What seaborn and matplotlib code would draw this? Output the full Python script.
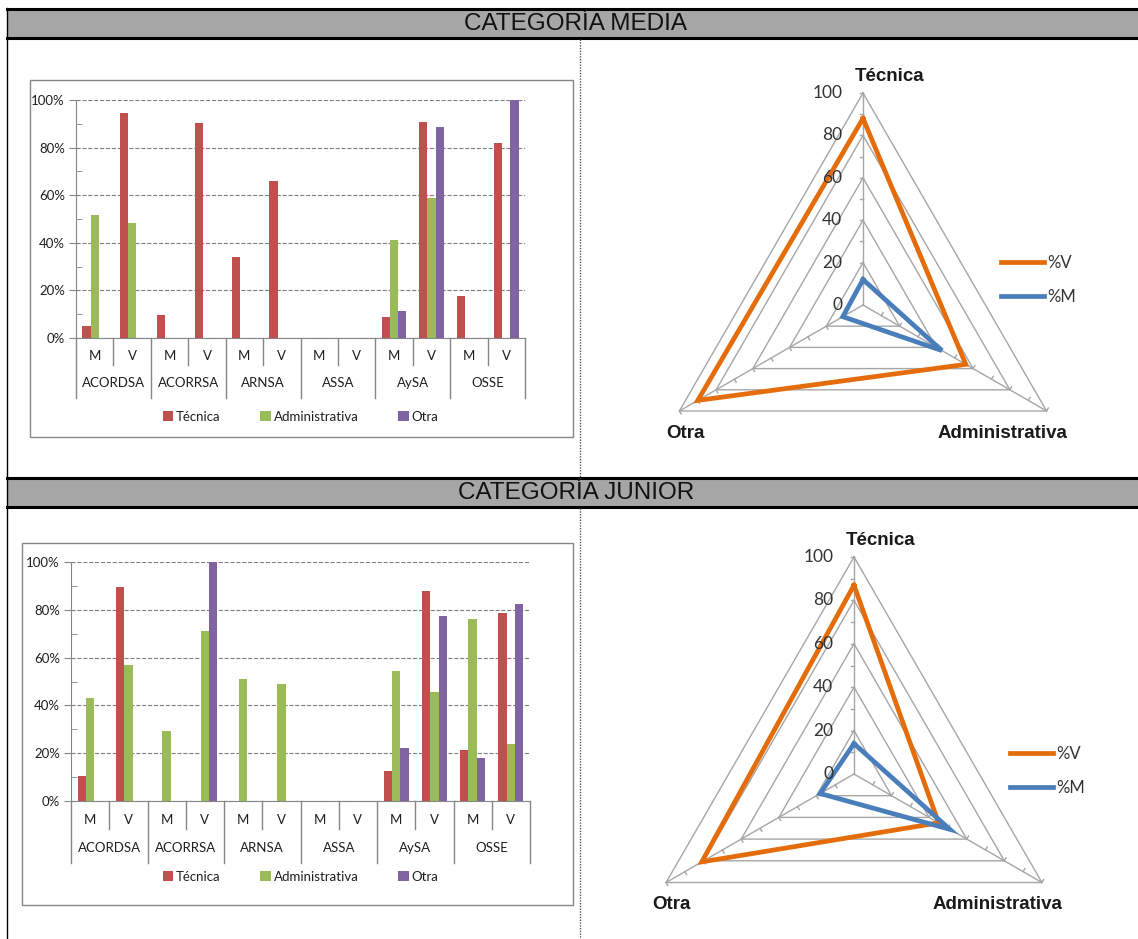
import numpy as np
import pandas as pd
import matplotlib
matplotlib.use('Agg')
import matplotlib.pyplot as plt
import matplotlib.lines as mlines
import matplotlib.patches as mpatches
from matplotlib.ticker import MultipleLocator, FuncFormatter
import seaborn as sns

############################## datos ##########################################
entes = ['ACORDSA', 'ACORRSA', 'ARNSA', 'ASSA', 'AySA', 'OSSE']
sexos = ['M', 'V']
tipos = ['Técnica', 'Administrativa', 'Otra']

# orden: ACORDSA-M, ACORDSA-V, ACORRSA-M, ... OSSE-V
media_tecnica = [5, 94.5, 9.7, 90.2, 34, 66, 0, 0, 8.8, 90.6, 17.6, 81.8]
media_admin = [51.5, 48.3, 0, 0, 0, 0, 0, 0, 41.1, 58.7, 0, 0]
media_otra = [0, 0, 0, 0, 0, 0, 0, 0, 11.5, 88.5, 0, 100]

junior_tecnica = [10.6, 89.4, 0, 0, 0, 0, 0, 0, 12.4, 87.7, 21.5, 78.7]
junior_admin = [43.1, 57.0, 29.1, 71.0, 51.2, 49.0, 0, 0, 54.3, 45.7, 76.0, 23.7]
junior_otra = [0, 0, 0, 100, 0, 0, 0, 0, 22.3, 77.3, 17.9, 82.3]

radar_ejes = ['Técnica', 'Administrativa', 'Otra']
radar_ticks = [0, 20, 40, 60, 80, 100]
media_radar_v = [88, 56, 90]
media_radar_m = [12, 43, 11]
junior_radar_v = [87, 45, 81]
junior_radar_m = [14, 51, 18]
###############################################################################

colores = ['#C0504D', '#9BBB59', '#8064A2']
naranja, azul = '#E46C0A', '#4A7EBB'
gris = '#868686'

W, H = 1138, 939
fig = plt.figure(figsize=(W / 100, H / 100), dpi=100)


def box(x0, y0, x1, y1):
    # pixel box (top-left origin) -> figure rect
    return [x0 / W, 1 - y1 / H, (x1 - x0) / W, (y1 - y0) / H]


def fline(xs, ys, **kw):
    fig.add_artist(mlines.Line2D([x / W for x in xs], [1 - y / H for y in ys],
                                 transform=fig.transFigure, **kw))


def bar_chart(frame, area, tec, adm, otr, mv_off, grp_off, leg_off):
    x0, y0, x1, y1 = frame
    fig.add_artist(mpatches.Rectangle((x0 / W, 1 - y1 / H), (x1 - x0) / W, (y1 - y0) / H,
                                      transform=fig.transFigure, fill=False, ec=gris, lw=1))
    ax = fig.add_axes(box(*area))
    h = area[3] - area[1]
    slots = [f'{e}-{s}' for e in entes for s in sexos]
    df = pd.DataFrame({'slot': slots * 3,
                       'tipo': np.repeat(tipos, len(slots)),
                       'valor': tec + adm + otr})
    sns.barplot(data=df, x='slot', y='valor', hue='tipo', palette=colores, width=0.66,
                saturation=1, errorbar=None, ax=ax)
    ax.set_xlim(-0.5, len(slots) - 0.5)
    ax.set_ylim(0, 100)
    ax.set_xlabel('')
    ax.set_ylabel('')
    ax.set_xticks([])
    ax.yaxis.set_major_locator(MultipleLocator(20))
    ax.yaxis.set_minor_locator(MultipleLocator(10))
    ax.yaxis.set_major_formatter(FuncFormatter(lambda v, p: f'{v:.0f}%'))
    ax.tick_params(axis='y', which='major', direction='out', length=5, color=gris,
                   labelsize=9.5, labelcolor='#1f1f1f', pad=3)
    ax.tick_params(axis='y', which='minor', direction='in', length=4, color=gris)
    ax.grid(axis='y', which='major', ls='--', color='#7f7f7f', lw=0.8)
    ax.set_axisbelow(True)
    for s in ['top', 'right']:
        ax.spines[s].set_visible(False)
    for s in ['left', 'bottom']:
        ax.spines[s].set_color(gris)

    tr = ax.get_xaxis_transform()
    for i in range(len(slots)):
        ax.text(i, -mv_off / h, sexos[i % 2], transform=tr, ha='center', va='center',
                fontsize=9.5, color='#1f1f1f')
    for g, e in enumerate(entes):
        ax.text(2 * g + 0.5, -grp_off / h, e, transform=tr, ha='center', va='center',
                fontsize=9.5, color='#1f1f1f')
    for i in range(len(slots) + 1):
        depth = (grp_off + 15) if i % 2 == 0 else (mv_off + 9)
        ax.plot([i - 0.5, i - 0.5], [0, -depth / h], transform=tr, color=gris, lw=1,
                clip_on=False)

    handles, labels = ax.get_legend_handles_labels()
    ax.legend(handles, labels, loc='center', bbox_to_anchor=(0.5, -leg_off / h), ncol=3,
              frameon=False, fontsize=9.5, handlelength=0.8, handleheight=0.8,
              handletextpad=0.2, columnspacing=3.0, labelcolor='#1f1f1f')
    return ax


def radar(center, radius, v, m, leg_xy):
    cx, cy = center
    ax = fig.add_axes(box(cx - radius, cy - radius, cx + radius, cy + radius),
                      projection='polar')
    ax.set_theta_offset(np.pi / 2)
    ax.set_theta_direction(-1)
    ax.set_ylim(0, 100)
    ax.grid(False)
    ax.set_xticks([])
    ax.set_yticks([])
    ax.spines['polar'].set_visible(False)
    ax.patch.set_alpha(0)

    ang = np.deg2rad(np.arange(len(radar_ejes)) * 360 / len(radar_ejes))
    closed = np.append(ang, ang[0])
    for r in radar_ticks[1:]:
        ax.plot(closed, [r] * len(closed), color='#a6a6a6', lw=1, clip_on=False)
    for a in ang:
        ax.plot([a, a], [0, 100], color='#a6a6a6', lw=1, clip_on=False)
        # small ticks on each spoke
        for r in range(10, 101, 10):
            d = 1.6
            x = r * np.sin(a) - d * np.cos(a)
            y = r * np.cos(a) + d * np.sin(a)
            ax.plot([a, np.arctan2(x, y)], [r, np.hypot(x, y)], color='#a6a6a6', lw=1,
                    clip_on=False)

    ax.plot(closed, v + v[:1], color=naranja, lw=3.4, clip_on=False, solid_joinstyle='miter')
    ax.plot(closed, m + m[:1], color=azul, lw=3.4, clip_on=False, solid_joinstyle='miter')

    for r in radar_ticks:
        ax.annotate(str(r), xy=(0, r), xytext=(-15, 0), textcoords='offset points',
                    ha='right', va='center', fontsize=12.5, color='#333333')

    offs = [(19, 12), (-32, -16), (4, -16)]
    for a, lab, o in zip(ang, radar_ejes, offs):
        ax.annotate(lab, xy=(a, 100), xytext=o, textcoords='offset points',
                    ha='center', va='center', fontsize=13.5, fontweight='bold',
                    family='Liberation Sans', color='#1a1a1a')

    handles = [mlines.Line2D([], [], color=naranja, lw=3.4),
               mlines.Line2D([], [], color=azul, lw=3.4)]
    fig.legend(handles, ['%V', '%M'], loc='center left',
               bbox_to_anchor=(leg_xy[0] / W, 1 - leg_xy[1] / H), frameon=False,
               fontsize=12, handlelength=2.6, handletextpad=0.15, labelspacing=1.1,
               borderpad=0, borderaxespad=0, labelcolor='#333333')
    return ax


plt.rcParams['font.family'] = ['Lato', 'DejaVu Sans']

# table structure
for y0, y1, title in [(10, 38, 'CATEGORÍA MEDIA'), (479, 507, 'CATEGORÍA JUNIOR')]:
    fig.add_artist(mpatches.Rectangle((7 / W, 1 - y1 / H), (W - 7) / W, (y1 - y0) / H,
                                      transform=fig.transFigure, fc='#A6A6A6', ec='none'))
    fline([7, W], [y0 - 1, y0 - 1], color='black', lw=2.2)
    fline([7, W], [y1, y1], color='black', lw=2.2)
    fig.text(576 / W, 1 - (y0 + y1) / 2 / H, title, ha='center', va='center',
             fontsize=17.5, family='Liberation Sans', color='#111111')
fline([7, 7], [8, H], color='black', lw=1)
fline([580, 580], [39, 478], color='#555555', lw=1, ls=(0, (1, 1)))
fline([580, 580], [508, H], color='#555555', lw=1, ls=(0, (1, 1)))

bar_chart((30, 80, 573, 437), (76, 100, 525, 338),
          media_tecnica, media_admin, media_otra, 18, 45, 79)
bar_chart((22, 543, 573, 905), (71, 562, 530, 801),
          junior_tecnica, junior_admin, junior_otra, 19, 47, 76)

radar((863, 305), 212, media_radar_v, media_radar_m, (1001, 280))
radar((854, 774), 217, junior_radar_v, junior_radar_m, (1010, 771))

fig.savefig('out.png', dpi=100)
